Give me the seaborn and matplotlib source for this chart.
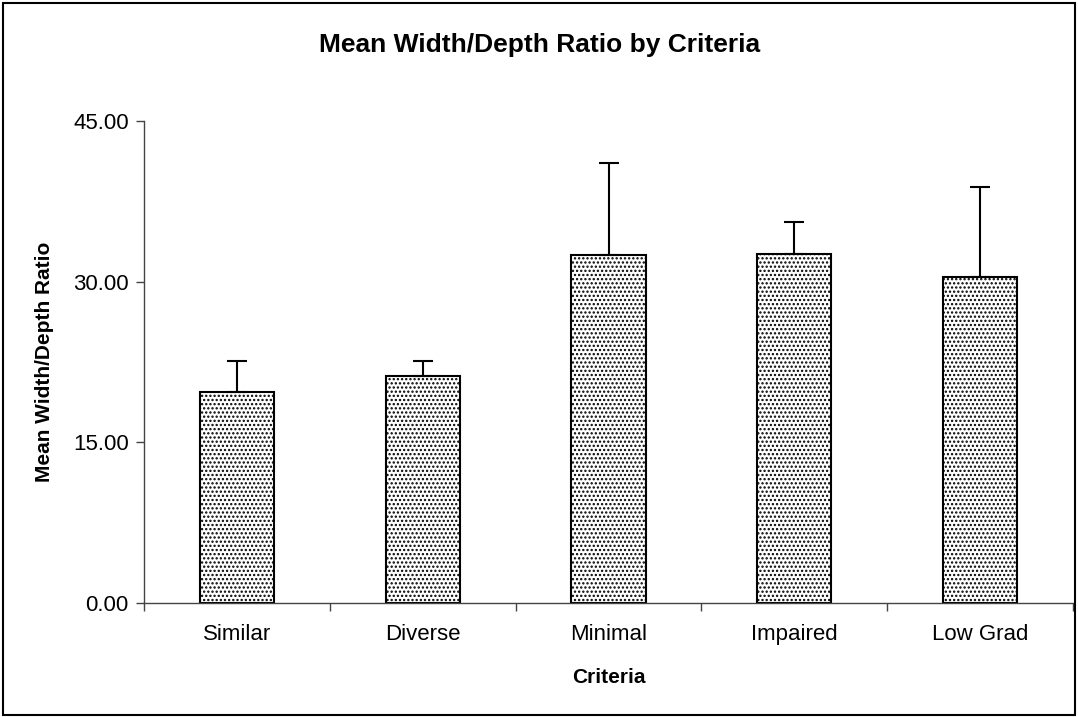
import matplotlib
matplotlib.use("Agg")
import matplotlib.pyplot as plt
import numpy as np
import pandas as pd
import seaborn as sns
from matplotlib.patches import Rectangle
from matplotlib.ticker import FixedLocator, FormatStrFormatter

# values
criteria = ["Similar", "Diverse", "Minimal", "Impaired", "Low Grad"]
mean_ratio = [19.7, 21.2, 32.5, 32.6, 30.4]
upper_err = [2.9, 1.4, 8.6, 3.0, 8.4]
y_ticks = [0, 15, 30, 45]

sns.set_theme(style="white")
plt.rcParams['font.family'] = ['Liberation Sans', 'DejaVu Sans']
plt.rcParams['text.color'] = 'black'
plt.rcParams['axes.labelcolor'] = 'black'
plt.rcParams['xtick.color'] = 'black'
plt.rcParams['ytick.color'] = 'black'
plt.rcParams['hatch.color'] = '#555555'
plt.rcParams['hatch.linewidth'] = 1.1

df = pd.DataFrame({"criteria": criteria, "ratio": mean_ratio})

fig = plt.figure(figsize=(10.78, 7.17), dpi=100)
ax = fig.add_axes([144 / 1078, 1 - 603 / 717, (1073 - 144) / 1078, (603 - 121) / 717])

sns.barplot(data=df, x="criteria", y="ratio", ax=ax, color="white",
            width=0.4, edgecolor="black", linewidth=1.5, hatch="....")

# upper error bars only
x = np.arange(len(criteria))
ax.errorbar(x, mean_ratio, yerr=[np.zeros(len(upper_err)), upper_err],
            fmt="none", ecolor="black", elinewidth=1.5, capsize=7, capthick=1.5)

ax.set_ylim(0, 45)
ax.set_xlim(-0.5, len(criteria) - 0.5)
ax.set_yticks(y_ticks)
ax.yaxis.set_major_formatter(FormatStrFormatter('%.2f'))
ax.tick_params(axis='y', direction='out', length=6, width=1, color='#444444',
               labelsize=16, pad=5, left=True)
# category boundary ticks on x
ax.tick_params(axis='x', which='major', length=0, labelsize=16, pad=15)
ax.xaxis.set_minor_locator(FixedLocator(np.arange(-0.5, len(criteria), 1.0)))
ax.tick_params(axis='x', which='minor', direction='out', length=6, width=1,
               color='#444444', bottom=True)

for side in ['top', 'right']:
    ax.spines[side].set_visible(False)
for side in ['left', 'bottom']:
    ax.spines[side].set_color('#444444')
    ax.spines[side].set_linewidth(1)

ax.set_xlabel("Criteria", fontsize=15, fontweight='bold', labelpad=17)
ax.set_ylabel("Mean Width/Depth Ratio", fontsize=15, fontweight='bold', labelpad=14)

fig.text(540 / 1078, 1 - 45 / 717, "Mean Width/Depth Ratio by Criteria",
         ha='center', va='center', fontsize=19, fontweight='bold')

# outer chart frame
fig.patches.append(Rectangle((3 / 1078, 2 / 717), 1 - 6 / 1078, 1 - 5 / 717,
                             transform=fig.transFigure, fill=False,
                             edgecolor='black', linewidth=1.5))

fig.savefig("out.png", dpi=100)
